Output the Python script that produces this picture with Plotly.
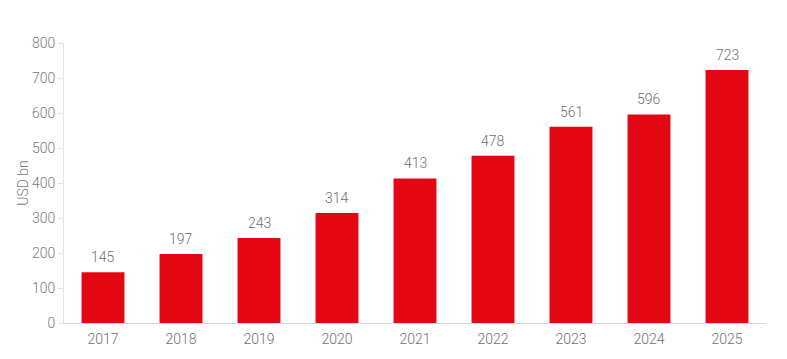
import plotly.graph_objects as go

years = ["2017", "2018", "2019", "2020", "2021", "2022", "2023", "2024", "2025"]
values = [145, 197, 243, 314, 413, 478, 561, 596, 723]
y_ticks = [0, 100, 200, 300, 400, 500, 600, 700, 800]

fig = go.Figure(go.Bar(
    x=years, y=values,
    marker=dict(color="#e30613", line=dict(width=0)),
    width=0.55,
    hoverinfo="x+y",
))

# value labels above bars (category axis: position by category index)
for i, v in enumerate(values):
    fig.add_annotation(
        x=i, y=v, xref="x", yref="y", text=str(v), showarrow=False,
        yanchor="bottom", yshift=5,
        font=dict(size=14, color="#6f6f6f", weight=300),
    )

# page body has an 8px default margin, so shift plot margins accordingly
fig.update_layout(
    width=787, height=359,
    margin=dict(l=56, r=29, t=35, b=44),
    paper_bgcolor="white", plot_bgcolor="white",
    font=dict(family="Roboto", color="#7a7a7a", size=14, weight=300),
    showlegend=False,
    xaxis=dict(
        type="category",
        automargin=False,
        showline=True, linecolor="#d9d9d9", linewidth=1,
        ticks="outside", ticklen=3, tickcolor="rgba(0,0,0,0)",
        tickfont=dict(size=14, color="#6f6f6f", weight=300),
        showgrid=False,
    ),
    yaxis=dict(
        automargin=False,
        range=[0, 800], tickvals=y_ticks,
        showline=True, linecolor="#e3e3e3", linewidth=1,
        ticks="outside", ticklen=5, tickcolor="#e3e3e3",
        tickfont=dict(size=14, color="#7a7a7a", weight=300),
        showgrid=False, zeroline=False,
        title=dict(text="USD bn", font=dict(size=14, color="#7a7a7a", weight=300), standoff=0),
    ),
)

fig.write_html("out.html")
